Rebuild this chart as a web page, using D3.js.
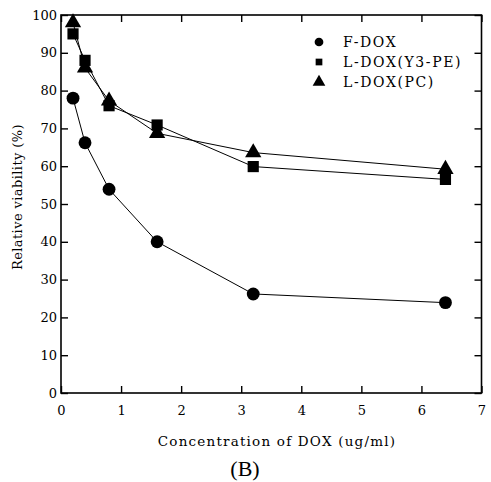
<!DOCTYPE html>
<html><head><meta charset="utf-8">
<script src="https://cdn.jsdelivr.net/npm/d3@7"></script>
<style>body{margin:0;background:#fff}svg{display:block}text{font-family:"DejaVu Serif","Liberation Serif",serif;fill:#000}</style>
</head><body>
<svg id="c" width="491" height="482"></svg>
<script>
const doses = [0.2, 0.4, 0.8, 1.6, 3.2, 6.4];
const fDox = [78, 66.2, 53.9, 40, 26.2, 23.9];
const lDoxY3PE = [95, 88, 76, 70.9, 59.9, 56.5];
const lDoxPC = [98, 86, 77.3, 68.7, 63.6, 59.2];
const seriesNames = ["F-DOX", "L-DOX(Y3-PE)", "L-DOX(PC)"];
const xTicks = [0,1,2,3,4,5,6,7];
const yTicks = [0,10,20,30,40,50,60,70,80,90,100];

const svg = d3.select("#c");
const L=61, R=481.5, T=15, B=393;
const x = d3.scaleLinear().domain([0,7]).range([L,R]);
const y = d3.scaleLinear().domain([0,100]).range([B,T]);

svg.append("rect").attr("x",L).attr("y",T).attr("width",R-L).attr("height",B-T)
  .attr("fill","none").attr("stroke","#000").attr("stroke-width",1.6);

const tl = 7;
const ax = svg.append("g");
const gb = ax.append("g").attr("transform",`translate(0,${B})`)
  .call(d3.axisBottom(x).tickValues(xTicks).tickSize(-tl).tickPadding(13).tickFormat(d3.format("d")));
const gt = ax.append("g").attr("transform",`translate(0,${T})`)
  .call(d3.axisTop(x).tickValues(xTicks).tickSize(-tl).tickFormat(""));
const gl = ax.append("g").attr("transform",`translate(${L},0)`)
  .call(d3.axisLeft(y).tickValues(yTicks).tickSize(-tl).tickPadding(4).tickFormat(d3.format("d")));
const gr = ax.append("g").attr("transform",`translate(${R},0)`)
  .call(d3.axisRight(y).tickValues(yTicks).tickSize(-tl).tickFormat(""));
[gb,gt,gl,gr].forEach(g=>{
  g.select(".domain").remove();
  g.selectAll("line").attr("stroke","#000").attr("stroke-width",1.4);
  g.selectAll("text").style("font-family",'"DejaVu Serif",serif').style("font-size","13px").attr("fill","#000");
});

const sets = [fDox, lDoxY3PE, lDoxPC];
const shapes = [d3.symbolCircle, d3.symbolSquare, d3.symbolTriangle];
const sizes = [130, 125, 115];
const line = d3.line().x((d,i)=>x(doses[i])).y(d=>y(d));
sets.forEach((s,k)=>{
  svg.append("path").datum(s).attr("d",line).attr("fill","none").attr("stroke","#000").attr("stroke-width",1);
});
sets.forEach((s,k)=>{
  svg.append("g").selectAll("path").data(s).join("path")
    .attr("transform",(d,i)=>`translate(${x(doses[i])},${y(d)})`)
    .attr("d",d3.symbol().type(shapes[k]).size(sizes[k])).attr("fill","#000");
});

const lg = svg.append("g");
const legSizes=[60,45,70];
seriesNames.forEach((n,k)=>{
  const yy = 42 + k*20;
  lg.append("path").attr("transform",`translate(319,${yy})`)
    .attr("d",d3.symbol().type(shapes[k]).size(legSizes[k])).attr("fill","#000");
  lg.append("text").attr("x",343).attr("y",yy+5).style("font-size","14px").style("letter-spacing","1.6px").text(n);
});

svg.append("text").attr("transform","translate(22,197) rotate(-90)").attr("text-anchor","middle")
  .style("font-size","13px").style("letter-spacing","0.4px").text("Relative viability (%)");
svg.append("text").attr("x",277).attr("y",446).attr("text-anchor","middle")
  .style("font-size","13.5px").style("letter-spacing","1.2px").text("Concentration of DOX (ug/ml)");
svg.append("text").attr("x",245).attr("y",476).attr("text-anchor","middle")
  .style("font-family",'"Liberation Serif",serif').style("font-size","22px").text("(B)");
</script>
</body></html>
